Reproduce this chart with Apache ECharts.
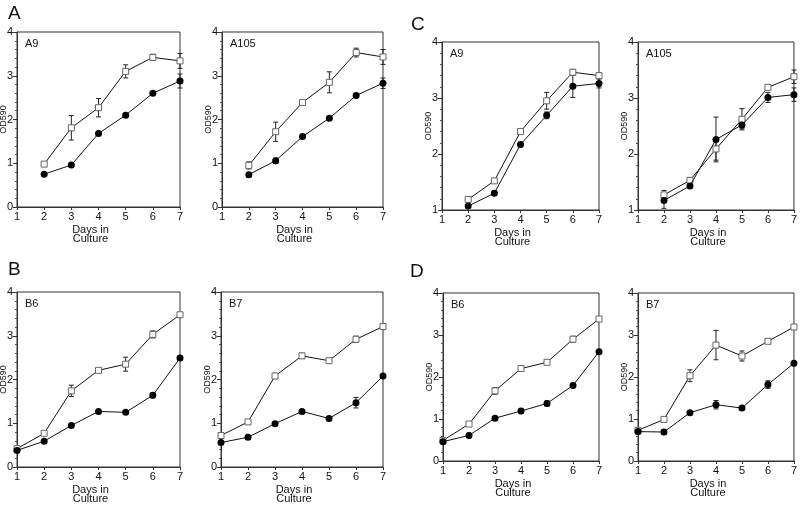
<!DOCTYPE html>
<html>
<head>
<meta charset="utf-8">
<script src="https://cdn.jsdelivr.net/npm/echarts@6/dist/echarts.min.js"></script>
<style>html,body{margin:0;padding:0;background:#fff}#c{width:800px;height:511px}</style>
</head>
<body>
<div id="c"></div>
<script>
// ---- data ----
const daysShort = [2, 3, 4, 5, 6, 7];
const daysLong = [1, 2, 3, 4, 5, 6, 7];

const aA9Open = [0.98, 1.81, 2.27, 3.10, 3.42, 3.34];
const aA9OpenErr = [0.03, 0.28, 0.21, 0.15, 0.07, 0.17];
const aA9Filled = [0.75, 0.96, 1.68, 2.10, 2.60, 2.88];
const aA9FilledErr = [0.02, 0.02, 0.04, 0.02, 0.02, 0.16];

const aA105Open = [0.95, 1.72, 2.39, 2.85, 3.53, 3.43];
const aA105OpenErr = [0.08, 0.22, 0.03, 0.24, 0.10, 0.17];
const aA105Filled = [0.74, 1.06, 1.61, 2.03, 2.55, 2.83];
const aA105FilledErr = [0.05, 0.06, 0.02, 0.02, 0.04, 0.12];

const cA9Open = [1.19, 1.52, 2.40, 2.95, 3.46, 3.40];
const cA9OpenErr = [0.03, 0.04, 0.02, 0.15, 0.05, 0.04];
const cA9Filled = [1.07, 1.30, 2.17, 2.69, 3.21, 3.26];
const cA9FilledErr = [0.02, 0.04, 0.04, 0.06, 0.20, 0.08];

const cA105Open = [1.27, 1.53, 2.09, 2.62, 3.19, 3.38];
const cA105OpenErr = [0.08, 0.05, 0.20, 0.19, 0.04, 0.12];
const cA105Filled = [1.17, 1.43, 2.26, 2.52, 3.01, 3.06];
const cA105FilledErr = [0.14, 0.03, 0.40, 0.07, 0.09, 0.12];

const bB6Open = [0.42, 0.77, 1.74, 2.21, 2.35, 3.03, 3.48];
const bB6OpenErr = [0.03, 0.03, 0.13, 0.03, 0.16, 0.08, 0.05];
const bB6Filled = [0.38, 0.59, 0.95, 1.27, 1.25, 1.64, 2.49];
const bB6FilledErr = [0.03, 0.02, 0.02, 0.02, 0.04, 0.06, 0.05];

const bB7Open = [0.72, 1.03, 2.08, 2.54, 2.43, 2.92, 3.21];
const bB7OpenErr = [0.03, 0.03, 0.06, 0.06, 0.04, 0.07, 0.03];
const bB7Filled = [0.56, 0.68, 0.99, 1.27, 1.11, 1.47, 2.08];
const bB7FilledErr = [0.02, 0.02, 0.04, 0.02, 0.02, 0.12, 0.04];

const dB6Open = [0.49, 0.88, 1.67, 2.20, 2.35, 2.90, 3.38];
const dB6OpenErr = [0.03, 0.03, 0.08, 0.04, 0.04, 0.07, 0.04];
const dB6Filled = [0.46, 0.61, 1.02, 1.19, 1.37, 1.80, 2.60];
const dB6FilledErr = [0.04, 0.05, 0.03, 0.05, 0.06, 0.05, 0.03];

const dB7Open = [0.73, 0.99, 2.03, 2.76, 2.50, 2.85, 3.19];
const dB7OpenErr = [0.05, 0.03, 0.14, 0.35, 0.12, 0.04, 0.03];
const dB7Filled = [0.70, 0.69, 1.15, 1.34, 1.26, 1.82, 2.33];
const dB7FilledErr = [0.06, 0.06, 0.03, 0.10, 0.03, 0.09, 0.03];

const panelNames = ['A9', 'A105', 'A9', 'A105', 'B6', 'B7', 'B6', 'B7'];
const panelLetters = ['A', 'B', 'C', 'D'];
const xName1 = 'Days in';
const xName2 = 'Culture';
const yName = 'OD590';

// ---- panels (data refs + layout) ----
const panels = [
  {days: daysShort, open: aA9Open, openErr: aA9OpenErr, filled: aA9Filled, filledErr: aA9FilledErr, ymin: 0, l: 17, t: 32, w: 163, h: 175},
  {days: daysShort, open: aA105Open, openErr: aA105OpenErr, filled: aA105Filled, filledErr: aA105FilledErr, ymin: 0, l: 222, t: 32, w: 161, h: 175},
  {days: daysShort, open: cA9Open, openErr: cA9OpenErr, filled: cA9Filled, filledErr: cA9FilledErr, ymin: 1, l: 442, t: 42, w: 157, h: 168},
  {days: daysShort, open: cA105Open, openErr: cA105OpenErr, filled: cA105Filled, filledErr: cA105FilledErr, ymin: 1, l: 638, t: 42, w: 156, h: 168},
  {days: daysLong, open: bB6Open, openErr: bB6OpenErr, filled: bB6Filled, filledErr: bB6FilledErr, ymin: 0, l: 17, t: 292, w: 163, h: 175},
  {days: daysLong, open: bB7Open, openErr: bB7OpenErr, filled: bB7Filled, filledErr: bB7FilledErr, ymin: 0, l: 221, t: 292, w: 162, h: 175},
  {days: daysLong, open: dB6Open, openErr: dB6OpenErr, filled: dB6Filled, filledErr: dB6FilledErr, ymin: 0, l: 443, t: 293, w: 156, h: 168},
  {days: daysLong, open: dB7Open, openErr: dB7OpenErr, filled: dB7Filled, filledErr: dB7FilledErr, ymin: 0, l: 638, t: 293, w: 156, h: 168}
];
const letterPos = [[8, 14], [8, 270], [411, 25], [410, 272]];

const FONT = 'Liberation Sans';
const AX = '#333';

const grid = [], xAxis = [], yAxis = [], series = [], graphic = [];

function errRender(params, api) {
  const x = api.value(0);
  const lo = api.coord([x, api.value(1)]);
  const hi = api.coord([x, api.value(2)]);
  const c = 2.5;
  const st = {stroke: '#222', lineWidth: 1};
  return {
    type: 'group',
    children: [
      {type: 'line', shape: {x1: lo[0], y1: lo[1], x2: hi[0], y2: hi[1]}, style: st},
      {type: 'line', shape: {x1: lo[0] - c, y1: lo[1], x2: lo[0] + c, y2: lo[1]}, style: st},
      {type: 'line', shape: {x1: hi[0] - c, y1: hi[1], x2: hi[0] + c, y2: hi[1]}, style: st}
    ]
  };
}

panels.forEach((p, i) => {
  grid.push({left: p.l, top: p.t, width: p.w, height: p.h, show: true, borderColor: AX, borderWidth: 1, backgroundColor: 'transparent', z: 0});
  xAxis.push({
    type: 'value', gridIndex: i, min: 1, max: 7, interval: 1, z: 2,
    axisLine: {show: true, onZero: false, lineStyle: {color: AX, width: 1}},
    axisTick: {show: true, inside: false, length: 3, lineStyle: {color: AX, width: 1}},
    axisLabel: {show: true, fontFamily: FONT, fontSize: 11, color: '#111', margin: 4},
    splitLine: {show: false}
  });
  yAxis.push({
    type: 'value', gridIndex: i, min: p.ymin, max: 4, interval: 1, z: 2,
    axisLine: {show: true, onZero: false, lineStyle: {color: AX, width: 1}},
    axisTick: {show: true, inside: false, length: 4, lineStyle: {color: AX, width: 1}},
    minorTick: {show: true, splitNumber: 5, length: 2, lineStyle: {color: '#555', width: 1}},
    axisLabel: {show: true, fontFamily: FONT, fontSize: 11, color: '#111', margin: 4},
    splitLine: {show: false}
  });
  const openPts = p.days.map((d, k) => [d, p.open[k]]);
  const filledPts = p.days.map((d, k) => [d, p.filled[k]]);
  const openErr = p.days.map((d, k) => [d, p.open[k] - p.openErr[k], p.open[k] + p.openErr[k]]);
  const filledErr = p.days.map((d, k) => [d, p.filled[k] - p.filledErr[k], p.filled[k] + p.filledErr[k]]);
  series.push({
    type: 'custom', xAxisIndex: i, yAxisIndex: i, data: openErr, renderItem: errRender, z: 3, silent: true
  });
  series.push({
    type: 'custom', xAxisIndex: i, yAxisIndex: i, data: filledErr, renderItem: errRender, z: 3, silent: true
  });
  series.push({
    type: 'line', xAxisIndex: i, yAxisIndex: i, data: openPts, symbol: 'rect', symbolSize: 6,
    lineStyle: {color: '#111', width: 1}, itemStyle: {color: '#fff', borderColor: '#666', borderWidth: 1},
    z: 4, animation: false, silent: true
  });
  series.push({
    type: 'line', xAxisIndex: i, yAxisIndex: i, data: filledPts, symbol: 'circle', symbolSize: 7,
    lineStyle: {color: '#111', width: 1}, itemStyle: {color: '#000', borderColor: '#000', borderWidth: 0},
    z: 5, animation: false, silent: true
  });
  graphic.push({type: 'text', left: p.l + 8, top: p.t + 6, style: {text: panelNames[i], font: '11px "' + FONT + '"', fill: '#111'}});
  const cx = p.l + p.w / 2 - 8;
  const by = p.t + p.h;
  graphic.push({type: 'text', x: cx, y: by + 23, style: {text: xName1, font: '11px "' + FONT + '"', fill: '#111', align: 'center', verticalAlign: 'middle'}});
  graphic.push({type: 'text', x: cx, y: by + 32, style: {text: xName2, font: '11px "' + FONT + '"', fill: '#111', align: 'center', verticalAlign: 'middle'}});
  graphic.push({type: 'text', x: p.l - 13, y: p.t + p.h / 2, rotation: Math.PI / 2, style: {text: yName, font: '9px "' + FONT + '"', fill: '#111', align: 'center', verticalAlign: 'middle'}});
});

panelLetters.forEach((L, i) => {
  graphic.push({type: 'text', x: letterPos[i][0], y: letterPos[i][1], style: {text: L, font: '19px "' + FONT + '"', fill: '#111', align: 'left', verticalAlign: 'middle'}});
});

const chart = echarts.init(document.getElementById('c'), null, {renderer: 'canvas'});
chart.setOption({
  animation: false,
  backgroundColor: '#fff',
  grid, xAxis, yAxis, series, graphic
});
</script>
</body>
</html>
